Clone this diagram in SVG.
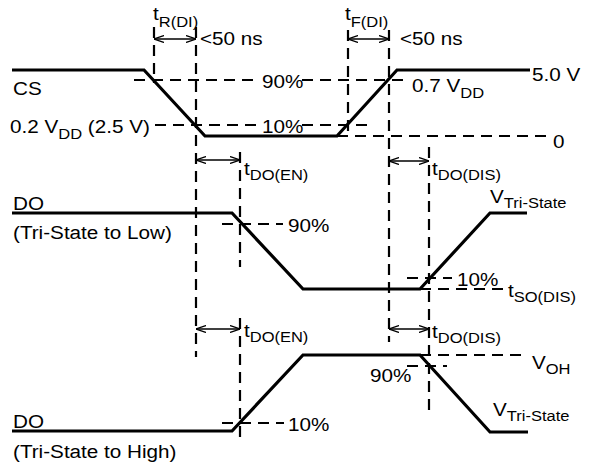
<svg xmlns="http://www.w3.org/2000/svg" width="589" height="466" viewBox="0 0 589 466">
<style>
.sig{fill:none;stroke:#000;stroke-width:3.2;stroke-linejoin:miter}
.dash{fill:none;stroke:#000;stroke-width:2.2;stroke-dasharray:11 7}
.arr{fill:none;stroke:#000;stroke-width:1.3;marker-start:url(#ah);marker-end:url(#ah)}
text{font-family:"Liberation Sans",Arial,Helvetica,sans-serif;font-size:18.8px;fill:#000}
.s{font-size:15px}
</style>
<defs>
<marker id="ah" viewBox="0 0 10 8" refX="10" refY="4" markerWidth="10" markerHeight="8" markerUnits="userSpaceOnUse" orient="auto-start-reverse">
<path d="M0,0.5 L10,4 L0,7.5" fill="none" stroke="#000" stroke-width="1.3"/>
</marker>
</defs>
<rect width="589" height="466" fill="#fff"/>
<g id="guides">
<path class="dash" d="M154,27 V83 M196,27 V357 M348,30 V137 M389,30 V342 M240,152 V267 M240,318 V440 M429,147 V413"/>
<path class="dash" d="M134,80 H258 M302,80 H408 M155,125 H258 M302,125 H368 M337,136 H548 M222,224 H283 M407,278 H452 M420,289 H503 M222,423 H284 M420,355 H523 M407,366 H447"/>
</g>
<g id="signals">
<path id="cs" class="sig" d="M12,70 H144 L205,136 H337 L397,70 H530"/>
<path id="do-low" class="sig" d="M12,213 H232 L303,289 H420 L490,213 H527"/>
<path id="do-high" class="sig" d="M12,431 H232 L303,355 H420 L490,432 H528"/>
</g>
<g id="connectors">
<line class="arr" x1="154" y1="39" x2="196" y2="39"/>
<line class="arr" x1="348" y1="39" x2="389" y2="39"/>
<line class="arr" x1="196" y1="160" x2="240" y2="160"/>
<line class="arr" x1="389" y1="161" x2="429" y2="161"/>
<line class="arr" x1="196" y1="329" x2="240" y2="329"/>
<line class="arr" x1="389" y1="329" x2="429" y2="329"/>
</g>
<g id="labels">
<text transform="translate(153,20) scale(1.1,1)">t<tspan class="s" dy="7">R(DI)</tspan></text>
<text transform="translate(200,45) scale(1.1,1)">&lt;50 ns</text>
<text transform="translate(345,20) scale(1.1,1)">t<tspan class="s" dy="7">F(DI)</tspan></text>
<text transform="translate(400,45) scale(1.1,1)">&lt;50 ns</text>
<text transform="translate(13,95) scale(1.1,1)">CS</text>
<text transform="translate(262,88) scale(1.1,1)">90%</text>
<text transform="translate(262,133) scale(1.1,1)">10%</text>
<text transform="translate(10,133) scale(1.1,1)">0.2 V<tspan class="s" dy="6">DD</tspan><tspan dy="-6"> (2.5 V)</tspan></text>
<text transform="translate(412,92) scale(1.1,1)">0.7 V<tspan class="s" dy="6">DD</tspan></text>
<text transform="translate(532,81) scale(1.1,1)">5.0 V</text>
<text transform="translate(553,148) scale(1.1,1)">0</text>
<text transform="translate(244,175) scale(1.1,1)">t<tspan class="s" dy="5">DO(EN)</tspan></text>
<text transform="translate(432,175) scale(1.1,1)">t<tspan class="s" dy="5">DO(DIS)</tspan></text>
<text transform="translate(13,210) scale(1.1,1)">DO</text>
<text transform="translate(13,239) scale(1.1,1)">(Tri-State to Low)</text>
<text transform="translate(288,232) scale(1.1,1)">90%</text>
<text transform="translate(490,203) scale(1.1,1)">V<tspan class="s" dy="5">Tri-State</tspan></text>
<text transform="translate(457,286) scale(1.1,1)">10%</text>
<text transform="translate(508,297) scale(1.1,1)">t<tspan class="s" dy="5">SO(DIS)</tspan></text>
<text transform="translate(244,337) scale(1.1,1)">t<tspan class="s" dy="5">DO(EN)</tspan></text>
<text transform="translate(432,338) scale(1.1,1)">t<tspan class="s" dy="5">DO(DIS)</tspan></text>
<text transform="translate(532,369) scale(1.1,1)">V<tspan class="s" dy="5">OH</tspan></text>
<text transform="translate(370,382) scale(1.1,1)">90%</text>
<text transform="translate(493,416) scale(1.1,1)">V<tspan class="s" dy="5">Tri-State</tspan></text>
<text transform="translate(13,428) scale(1.1,1)">DO</text>
<text transform="translate(288,431) scale(1.1,1)">10%</text>
<text transform="translate(13,458) scale(1.1,1)">(Tri-State to High)</text>
</g>
</svg>
